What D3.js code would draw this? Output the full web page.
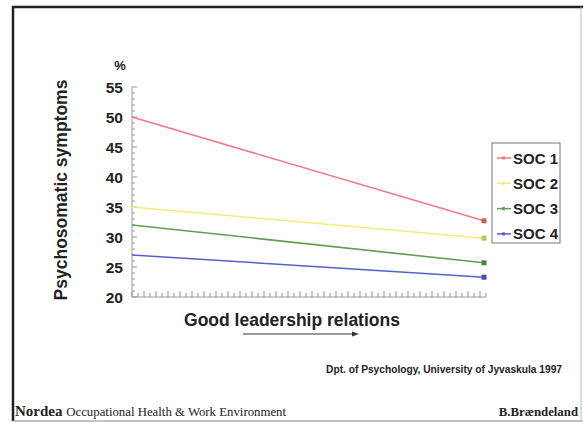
<!DOCTYPE html>
<html>
<head>
<meta charset="utf-8">
<script src="https://cdn.jsdelivr.net/npm/d3@7"></script>
<style>
body { margin: 0; background: #fff; }
svg text { font-family: "Liberation Sans", Arial, sans-serif; }
svg text.serif, svg text.serif tspan { font-family: "Liberation Serif", "Times New Roman", serif; }
</style>
</head>
<body>
<svg id="chart" width="583" height="422"></svg>
<script>
var width = 583, height = 422;

// data
var series = ["SOC 1", "SOC 2", "SOC 3", "SOC 4"];
var colours = ["#ee7b84", "#f3ec78", "#5f9e52", "#5560cc"];
var startVals = [50, 35, 32, 27];
var endVals = [32.7, 29.8, 25.7, 23.3];
var yTicks = [20, 25, 30, 35, 40, 45, 50, 55];

var svg = d3.select("#chart");

// slide frame
svg.append("path")
    .attr("d", "M13,421 L13,7 L583,7")
    .attr("fill", "none").attr("stroke", "#222").attr("stroke-width", 2.5);
svg.append("line").attr("x1", 13).attr("x2", 583).attr("y1", 421).attr("y2", 421)
    .attr("stroke", "#888").attr("stroke-width", 1);
svg.append("line").attr("x1", 581).attr("x2", 581).attr("y1", 7).attr("y2", 421)
    .attr("stroke", "#bbb").attr("stroke-width", 1);

var x = d3.scaleLinear().domain([0, 1]).range([132, 484]);
var y = d3.scaleLinear().domain([20, 55]).range([297, 87]);

// y axis with minor ticks pointing inside
var yAxis = svg.append("g");
yAxis.append("line").attr("x1", 132).attr("x2", 132).attr("y1", y(55)).attr("y2", y(20))
    .attr("stroke", "#999");
yAxis.selectAll(".ymin")
    .data(d3.range(20, 55.1, 1))
    .join("line")
    .attr("x1", 132).attr("x2", function(d) { return d % 5 === 0 ? 137 : 135; })
    .attr("y1", function(d) { return y(d); }).attr("y2", function(d) { return y(d); })
    .attr("stroke", "#999");
yAxis.selectAll("text")
    .data(yTicks)
    .join("text")
    .attr("x", 123).attr("y", function(d) { return y(d) + 5.5; })
    .attr("text-anchor", "end")
    .attr("font-size", 15.5).attr("font-weight", "bold").attr("fill", "#222")
    .text(function(d) { return d; });

// x axis with minor ticks
var xTickScale = d3.scaleLinear().domain([0, 59]).range([132, 486]);
svg.append("line").attr("x1", 132).attr("x2", 486).attr("y1", 297).attr("y2", 297)
    .attr("stroke", "#999");
svg.selectAll(".xmin")
    .data(d3.range(0, 60))
    .join("line")
    .attr("x1", function(d) { return xTickScale(d); }).attr("x2", function(d) { return xTickScale(d); })
    .attr("y1", 297).attr("y2", function(d) { return d % 2 === 0 ? 291 : 293; })
    .attr("stroke", "#999");

// series lines
series.forEach(function(s, i) {
    svg.append("line")
        .attr("x1", x(0)).attr("y1", y(startVals[i]))
        .attr("x2", x(1)).attr("y2", y(endVals[i]))
        .attr("stroke", colours[i]).attr("stroke-width", 1.6);
    svg.append("rect")
        .attr("x", x(1) - 2.5).attr("y", y(endVals[i]) - 2.5)
        .attr("width", 5).attr("height", 5)
        .attr("fill", d3.color(colours[i]).darker(0.6));
});

// legend
var lg = svg.append("g");
lg.append("rect").attr("x", 492).attr("y", 143).attr("width", 68).attr("height", 100)
    .attr("fill", "none").attr("stroke", "#777").attr("stroke-width", 1);
series.forEach(function(s, i) {
    var ly = 158 + i * 25.3;
    lg.append("line").attr("x1", 497).attr("x2", 511).attr("y1", ly).attr("y2", ly)
        .attr("stroke", colours[i]).attr("stroke-width", 1.5);
    lg.append("rect").attr("x", 502).attr("y", ly - 1.5).attr("width", 3).attr("height", 3)
        .attr("fill", colours[i]);
    lg.append("text").attr("x", 513).attr("y", ly + 5.5)
        .attr("font-size", 15).attr("font-weight", "bold").attr("fill", "#222")
        .text(s);
});

// titles
svg.append("text").attr("x", 120).attr("y", 70).attr("text-anchor", "middle")
    .attr("font-size", 13).attr("font-weight", "bold").attr("fill", "#222").text("%");
svg.append("text")
    .attr("transform", "translate(67,190) rotate(-90)")
    .attr("text-anchor", "middle")
    .attr("font-size", 17.5).attr("font-weight", "bold").attr("fill", "#222")
    .text("Psychosomatic symptoms");
svg.append("text").attr("x", 292).attr("y", 326).attr("text-anchor", "middle")
    .attr("font-size", 17.5).attr("font-weight", "bold").attr("fill", "#222")
    .text("Good leadership relations");

// arrow under x title
svg.append("line").attr("x1", 243).attr("x2", 354).attr("y1", 334).attr("y2", 334)
    .attr("stroke", "#333").attr("stroke-width", 1);
svg.append("path").attr("d", "M352,331.5 L359,334 L352,336.5 Z").attr("fill", "#333");

// source + footer
svg.append("text").attr("x", 562).attr("y", 373).attr("text-anchor", "end")
    .attr("font-size", 10.2).attr("font-weight", "bold").attr("fill", "#222")
    .text("Dpt. of Psychology, University of Jyvaskula 1997");

var foot = svg.append("text").attr("class", "serif").attr("x", 15).attr("y", 416)
    .attr("fill", "#222");
foot.append("tspan").attr("font-size", 15).attr("font-weight", "bold").text("Nordea ");
foot.append("tspan").attr("font-size", 12.8).text("Occupational Health & Work Environment");
svg.append("text").attr("class", "serif").attr("x", 578).attr("y", 416).attr("text-anchor", "end")
    .attr("font-size", 12.8).attr("font-weight", "bold").attr("fill", "#222")
    .text("B.Brændeland");
</script>
</body>
</html>
